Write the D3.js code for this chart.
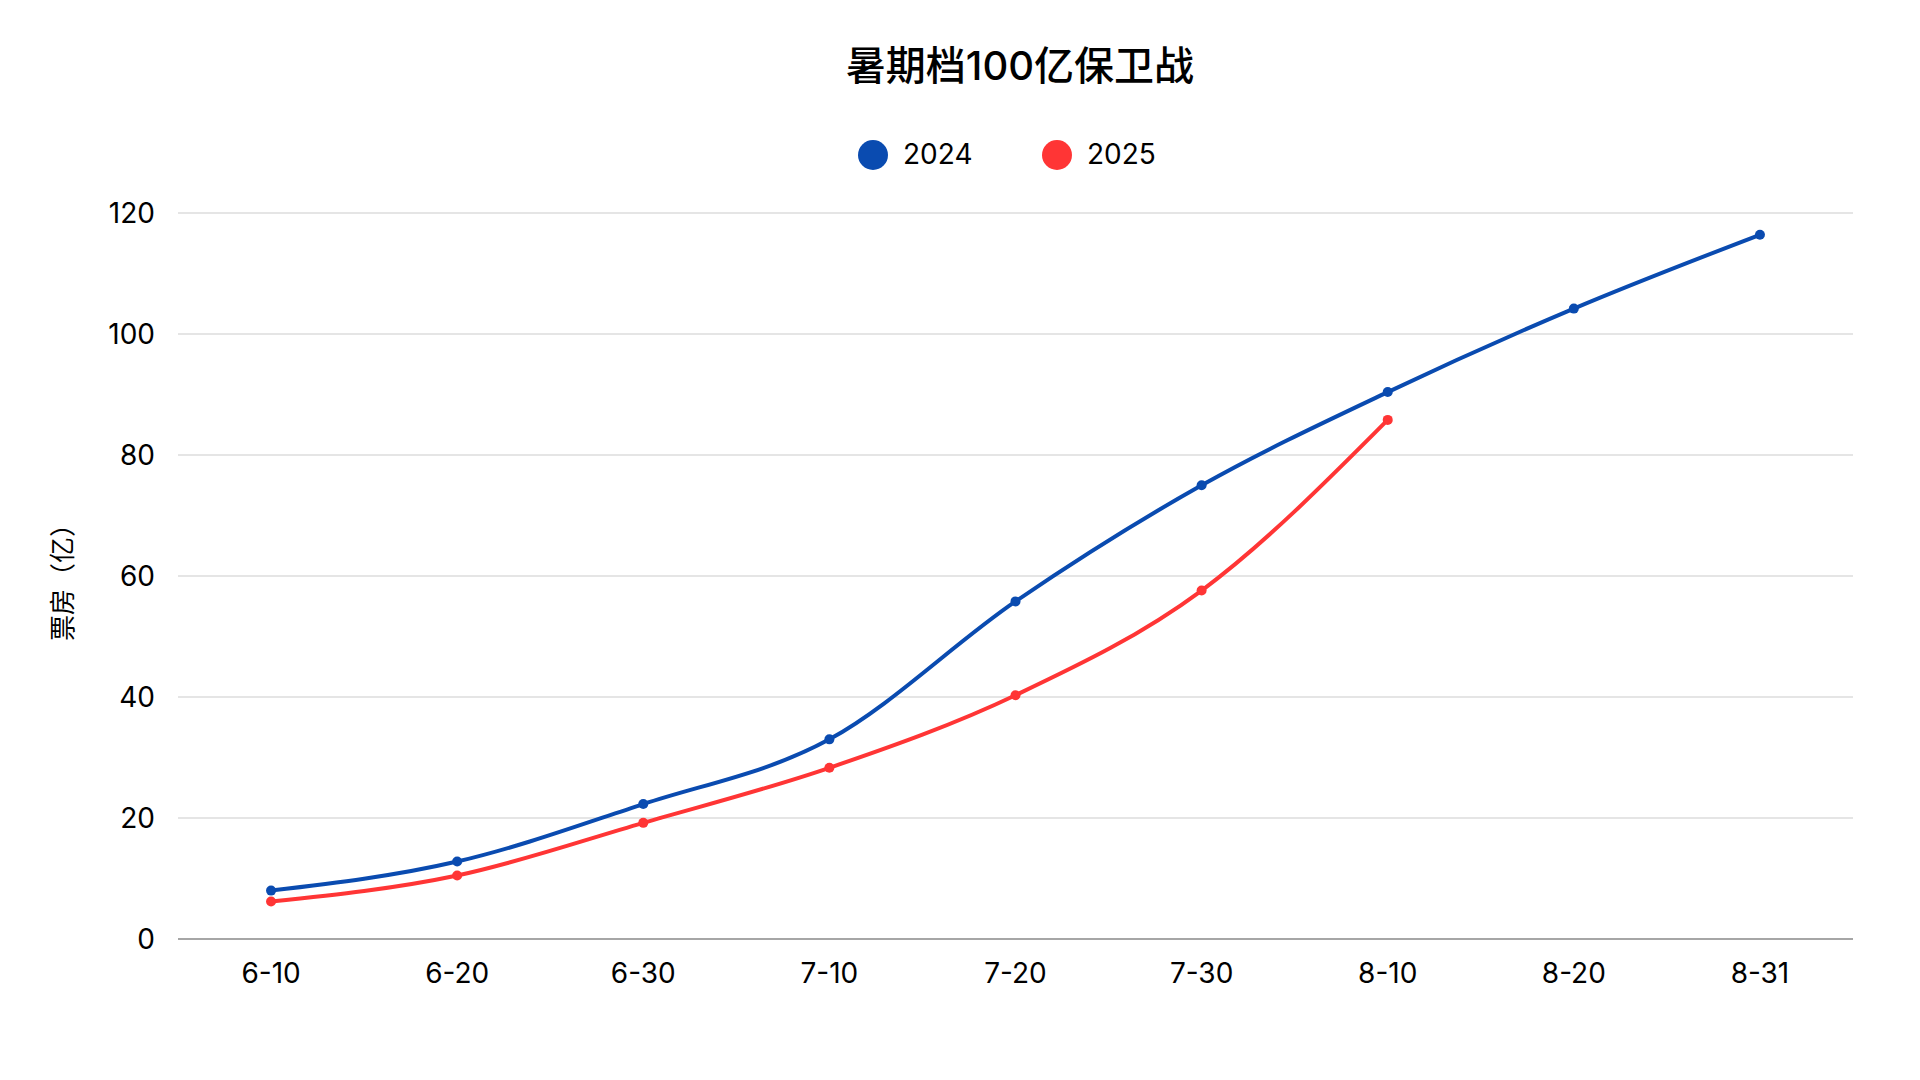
<!DOCTYPE html>
<html><head><meta charset="utf-8">
<script src="https://cdn.jsdelivr.net/npm/d3@7"></script>
<style>body{margin:0;background:#fff;font-family:Inter,"Noto Sans CJK SC",sans-serif}</style>
</head><body><svg id="chart" width="1920" height="1080"></svg>
<script>
// chart data
const categories = ['6-10','6-20','6-30','7-10','7-20','7-30','8-10','8-20','8-31'];
const values2024 = [8, 12.8, 22.3, 33, 55.8, 75, 90.4, 104.2, 116.4];
const values2025 = [6.2, 10.5, 19.2, 28.3, 40.3, 57.6, 85.8];
const yTicks = [0, 20, 40, 60, 80, 100, 120];

const series = [
    { name: '2024', color: '#0a4bb0', values: values2024 },
    { name: '2025', color: '#ff3535', values: values2025 }
];

const svg = d3.select('#chart');
const plotLeft = 178, plotRight = 1853, plotTop = 213, plotBottom = 939;

const x = d3.scalePoint().domain(categories).range([plotLeft, plotRight]).padding(0.5);
const y = d3.scaleLinear().domain([0, 120]).range([plotBottom, plotTop]);

// title
svg.append('text').attr('x', 1020).attr('y', 80).attr('text-anchor', 'middle')
    .style('font-size', '40px').style('font-weight', 500).text('暑期档100亿保卫战');

// legend
series.forEach((s, i) => {
    const lx = 873 + i * 184;
    svg.append('circle').attr('cx', lx).attr('cy', 155).attr('r', 15).attr('fill', s.color);
    svg.append('text').attr('x', lx + 30).attr('y', 164).style('font-size', '28px').text(s.name);
});

// grid lines
svg.append('g').selectAll('line').data(yTicks.filter(d => d > 0)).enter().append('line')
    .attr('x1', plotLeft).attr('x2', plotRight).attr('y1', d => y(d)).attr('y2', d => y(d))
    .attr('stroke', '#dcdcdc').attr('stroke-width', 1.5);

// y axis labels
svg.append('g').selectAll('text').data(yTicks).enter().append('text')
    .attr('x', 155).attr('y', d => y(d) + 10).attr('text-anchor', 'end')
    .style('font-size', '28px').text(d => d);

// x axis
svg.append('line').attr('x1', plotLeft).attr('x2', plotRight).attr('y1', plotBottom).attr('y2', plotBottom)
    .attr('stroke', '#888').attr('stroke-width', 1.5);
svg.append('g').selectAll('text').data(categories).enter().append('text')
    .attr('x', d => x(d)).attr('y', 983).attr('text-anchor', 'middle')
    .style('font-size', '28px').text(d => d);

// y axis title
svg.append('text').attr('transform', 'translate(72,576) rotate(-90)').attr('text-anchor', 'middle')
    .style('font-size', '26px').text('票房（亿）');

// lines and points
const line = d3.line().x((d, i) => x(categories[i])).y(d => y(d)).curve(d3.curveMonotoneX);
series.forEach(s => {
    svg.append('path').datum(s.values).attr('d', line)
        .attr('fill', 'none').attr('stroke', s.color).attr('stroke-width', 4);
    svg.append('g').selectAll('circle').data(s.values).enter().append('circle')
        .attr('cx', (d, i) => x(categories[i])).attr('cy', d => y(d)).attr('r', 5)
        .attr('fill', s.color);
});
</script></body></html>
